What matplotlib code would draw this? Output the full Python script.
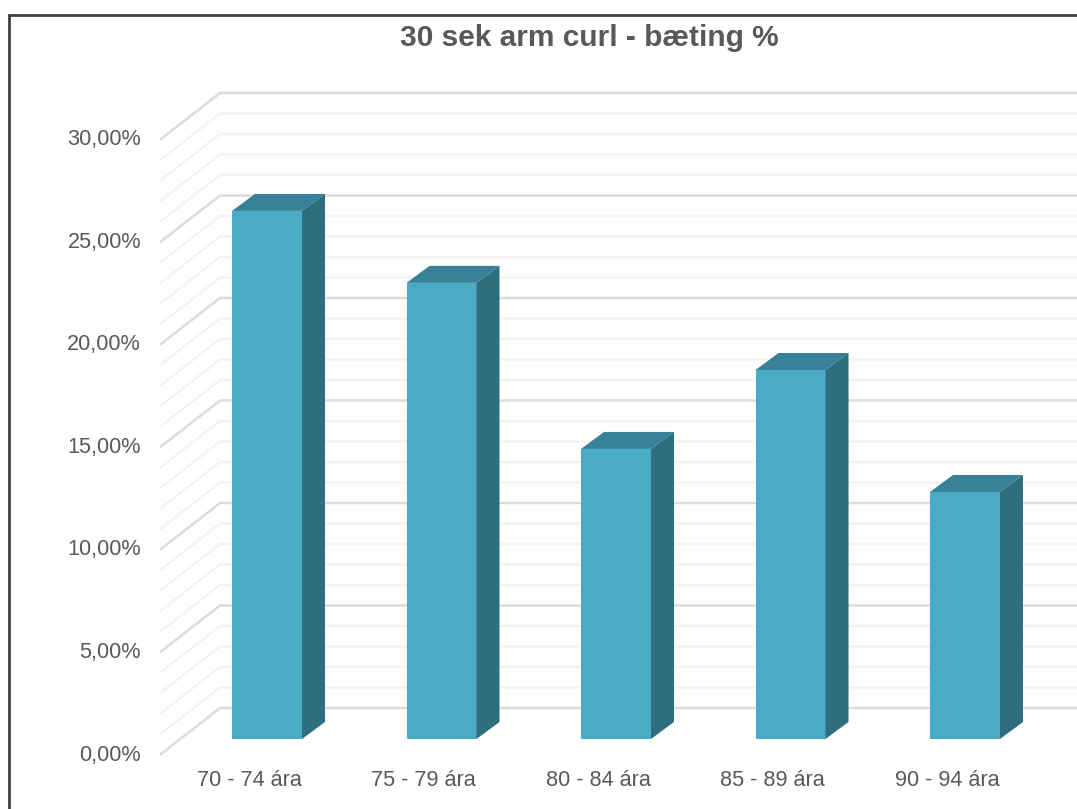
import matplotlib
matplotlib.use("Agg")
import matplotlib.pyplot as plt
from matplotlib.patches import Polygon

plt.rcParams['font.family'] = ['Liberation Sans', 'DejaVu Sans']

# chart data
categories = ['70 - 74 ára', '75 - 79 ára', '80 - 84 ára', '85 - 89 ára', '90 - 94 ára']
values = [25.76, 22.25, 14.15, 18.0, 12.05]
major_ticks = [0, 5, 10, 15, 20, 25, 30]
minor_ticks = list(range(0, 31))
tick_labels = ['0,00%', '5,00%', '10,00%', '15,00%', '20,00%', '25,00%', '30,00%']

# scale of the picture, pixels per category and per percent
W, H = 1077, 809
px_x = 174.5
px_y = 20.5
x0_px = 267
y0_px = 739

fig = plt.figure(figsize=(W / 100, H / 100), dpi=100)
ax = fig.add_axes([0, 0, 1, 1])
ax.set_xlim(-x0_px / px_x, (W - x0_px) / px_x)
ax.set_ylim((y0_px - H) / px_y, y0_px / px_y)
ax.axis('off')

# 3d offsets
bar_w = 70 / px_x
bar_dx = 23 / px_x
bar_dy = 17 / px_y
wall_shift = -15 / px_y          # front of the floor sits below the bars
wall_left = (161 - x0_px) / px_x
wall_dx = 59 / px_x
wall_dy = 46 / px_y

# gridlines on wall and side wall
for v in minor_ticks:
    major = v in major_ticks
    col = '#dcdcdc' if major else '#f2f2f2'
    lw = 1.8 if major else 1.6
    y = v + wall_shift
    ax.plot([wall_left, wall_left + wall_dx, ax.get_xlim()[1]],
            [y, y + wall_dy, y + wall_dy], color=col, lw=lw, zorder=2 if major else 1,
            solid_joinstyle='miter')

# bars
xs = list(range(len(values)))
ax.bar(xs, values, width=bar_w, color='#4aabc7', zorder=5)
for x, v in zip(xs, values):
    l = x - bar_w / 2
    r = x + bar_w / 2
    ax.add_patch(Polygon([(l, v), (r, v), (r + bar_dx, v + bar_dy), (l + bar_dx, v + bar_dy)],
                         closed=True, fc='#378299', ec='none', zorder=5))
    ax.add_patch(Polygon([(r, 0), (r + bar_dx, bar_dy), (r + bar_dx, v + bar_dy), (r, v)],
                         closed=True, fc='#2f6e7f', ec='none', zorder=5))

# labels
for v, lab in zip(major_ticks, tick_labels):
    ax.text((141 - x0_px) / px_x, v + wall_shift + 1 / px_y * -1, lab, ha='right', va='center',
            fontsize=15.6, color='#595959')
for x, lab in zip(xs, categories):
    ax.text(x - 18 / px_x, -41.5 / px_y, lab, ha='center', va='center',
            fontsize=15.6, color='#595959')

fig.text(589 / W, 1 - 37.5 / H, '30 sek arm curl - bæting %', ha='center', va='center',
         fontsize=21.5, fontweight='bold', color='#595959')

# frame of the screenshot, only top and left are visible
fig.add_artist(plt.Line2D([9 / W, 9 / W, 1], [0, 1 - 15 / H, 1 - 15 / H],
                          color='#404040', lw=2, solid_joinstyle='miter'))

plt.savefig('out.png', dpi=100)
plt.close()
